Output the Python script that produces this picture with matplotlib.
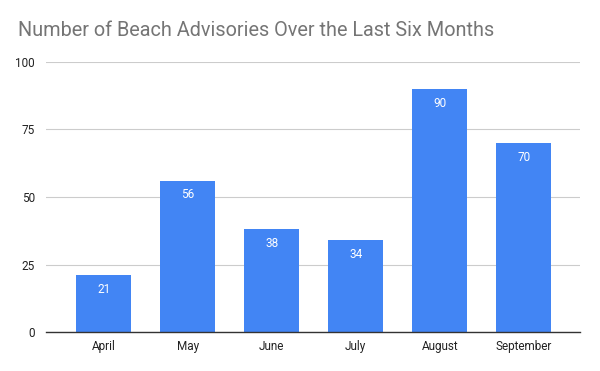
import matplotlib
matplotlib.use("Agg")
import matplotlib.pyplot as plt

months = ["April", "May", "June", "July", "August", "September"]
advisories = [21, 56, 38, 34, 90, 70]
yticks = [0, 25, 50, 75, 100]

plt.rcParams['font.family'] = ['Roboto', 'DejaVu Sans']

fig = plt.figure(figsize=(6, 3.71), dpi=100)
ax = fig.add_axes([0.0767, 0.105, 0.89, 0.728])

x = list(range(len(months)))
bars = ax.bar(x, advisories, width=0.655, color="#4285F4", zorder=3)

# value labels inside the top of each bar
for xi, v in zip(x, advisories):
    ax.annotate(str(v), (xi, v), xytext=(0, -5.5), textcoords="offset points",
                ha="center", va="top", color="white", fontsize=8.5, zorder=4)

ax.set_xlim(-0.685, 5.67)
ax.set_ylim(0, 100)
ax.set_yticks(yticks)
ax.set_xticks(x)
ax.set_xticklabels(months)
ax.tick_params(axis="both", length=0, labelsize=8.5, colors="#222222")
ax.tick_params(axis="y", pad=8)
ax.tick_params(axis="x", pad=6)
ax.grid(axis="y", color="#cccccc", linewidth=0.8, zorder=0)
for s in ["top", "right", "left"]:
    ax.spines[s].set_visible(False)
ax.spines["bottom"].set_color("#333333")
ax.spines["bottom"].set_linewidth(1.0)
ax.spines["bottom"].set_zorder(5)

fig.text(18 / 600, 1 - 30 / 371, "Number of Beach Advisories Over the Last Six Months",
         fontsize=14.3, color="#757575", ha="left", va="center")

fig.savefig("out.png", dpi=100)
